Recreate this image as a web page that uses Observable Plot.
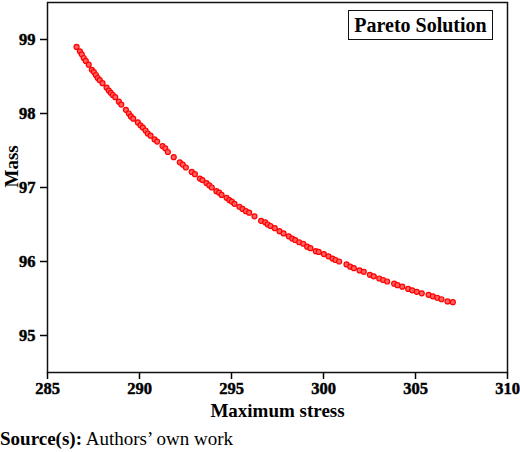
<!DOCTYPE html>
<html>
<head>
<meta charset="utf-8">
<script src="https://cdn.jsdelivr.net/npm/d3@7"></script>
<script src="https://cdn.jsdelivr.net/npm/@observablehq/plot@0.6"></script>
<style>
  body { margin: 0; background: #fff; font-family: "Liberation Serif", "Times New Roman", serif; }
  #wrap { position: relative; width: 520px; }
  #chart svg, #chart svg text { font-family: "Liberation Serif", "Times New Roman", serif !important; font-weight: 700 !important; }
  #legend { position: absolute; left: 348px; top: 10px; width: 143px; height: 28px; border: 1.5px solid #111;
            font-weight: bold; font-size: 20px; line-height: 29px; text-align: center; color: #000; }
  #caption { font-size: 19px; line-height: 22px; color: #000; margin-top: 0px; }
</style>
</head>
<body>
<div id="wrap">
  <div id="chart"></div>
  <div id="legend">Pareto Solution</div>
  <div id="caption"><b>Source(s):</b> Authors’ own work</div>
</div>
<script>
const maxStress = [286.58,286.76,286.86,286.97,287.08,287.24,287.41,287.52,287.63,287.73,287.84,287.99,288.21,288.33,288.44,288.55,288.68,288.88,289.01,289.26,289.42,289.53,289.66,289.91,290.05,290.18,290.33,290.45,290.60,290.82,290.96,291.25,291.40,291.54,291.86,292.19,292.35,292.52,292.84,293.01,293.28,293.42,293.64,293.79,293.93,294.18,294.33,294.46,294.73,294.88,295.02,295.16,295.43,295.60,295.78,295.96,296.25,296.61,296.83,296.97,297.12,297.35,297.61,297.83,298.11,298.30,298.46,298.68,298.90,299.11,299.29,299.58,299.74,300.02,300.27,300.49,300.65,300.85,301.25,301.45,301.65,301.96,302.19,302.52,302.73,303.03,303.24,303.46,303.84,304.02,304.28,304.60,304.82,305.07,305.34,305.71,305.94,306.18,306.41,306.74,307.03];
const mass = [98.90,98.84,98.80,98.75,98.71,98.66,98.59,98.56,98.52,98.48,98.45,98.41,98.35,98.31,98.28,98.25,98.22,98.16,98.12,98.05,98.00,97.96,97.93,97.88,97.84,97.81,97.77,97.73,97.70,97.65,97.62,97.56,97.53,97.48,97.41,97.34,97.31,97.27,97.21,97.18,97.12,97.10,97.06,97.03,97.00,96.95,96.93,96.90,96.86,96.83,96.81,96.78,96.74,96.71,96.68,96.66,96.61,96.55,96.53,96.50,96.48,96.45,96.41,96.38,96.34,96.31,96.29,96.26,96.24,96.20,96.18,96.14,96.13,96.10,96.07,96.04,96.02,96.00,95.96,95.93,95.91,95.88,95.86,95.82,95.80,95.77,95.75,95.73,95.70,95.68,95.66,95.63,95.61,95.59,95.57,95.55,95.53,95.51,95.49,95.46,95.45];
const xTicks = [285, 290, 295, 300, 305, 310];
const yTicks = [95, 96, 97, 98, 99];
const xLabel = "Maximum stress";
const yLabel = "Mass";

const data = maxStress.map((x, i) => ({x, y: mass[i]}));

const chart = Plot.plot({
  width: 520,
  height: 428,
  marginLeft: 47,
  marginRight: 13,
  marginTop: 2,
  marginBottom: 56,
  style: "font-family: 'Liberation Serif', serif; font-size: 16px; font-weight: bold; color: #000; background: #fff; overflow: visible;",
  x: { domain: [285, 310] },
  y: { domain: [94.5, 99.5] },
  marks: [
    Plot.axisX({ticks: xTicks, tickSize: 7, tickPadding: 3, label: null, tickFormat: d => String(d), strokeWidth: 1.5, fontSize: 16.5, fontWeight: "bold", fill: "#000"}),
    Plot.axisY({ticks: yTicks, tickSize: 7, tickPadding: 5, label: null, tickFormat: d => String(d), strokeWidth: 1.5, fontSize: 16.5, fontWeight: "bold", fill: "#000"}),
    Plot.frame({stroke: "#111", strokeWidth: 1.5}),
    Plot.dot(data, {x: "x", y: "y", r: 2.5, fill: "#ff6060", stroke: "#ff0000", strokeWidth: 1.2}),
    Plot.text([xLabel], {frameAnchor: "bottom", dy: 44, fontSize: 19, fontWeight: "bold", fill: "#000"}),
    Plot.text([yLabel], {frameAnchor: "left", dx: -36, rotate: -90, fontSize: 19, fontWeight: "bold", fill: "#000"})
  ]
});
d3.select(chart).selectAll("text").attr("font-weight", "bold").attr("font-family", "Liberation Serif");
d3.select(chart).selectAll('g[aria-label$="tick label"] text')
  .attr("stroke", "#000").attr("stroke-width", 0.45).style("paint-order", "stroke");
document.getElementById("chart").appendChild(chart);
</script>
</body>
</html>
